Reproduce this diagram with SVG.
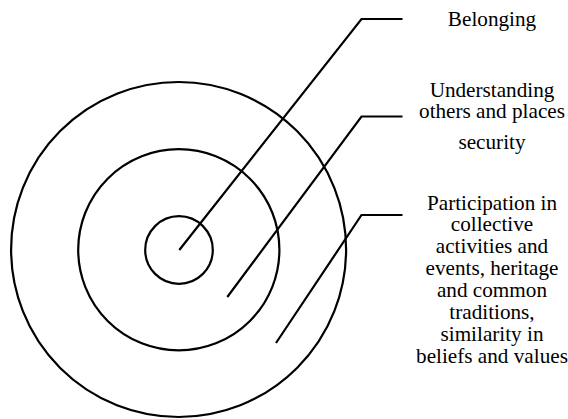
<svg xmlns="http://www.w3.org/2000/svg" width="568" height="419" viewBox="0 0 568 419">
<style>
.ring{fill:none;stroke:#000;stroke-width:2.2}
.conn{fill:none;stroke:#000;stroke-width:2.2;stroke-linejoin:miter}
text{font-family:'Liberation Serif','Tinos','Times New Roman','DejaVu Serif',serif;font-size:21.2px;fill:#000;text-anchor:middle}
</style>
<rect width="568" height="419" fill="#fff"/>
<g id="outer-circle"><circle class="ring" cx="178.6" cy="249.5" r="167.5"/></g>
<g id="middle-circle"><circle class="ring" cx="178.8" cy="249.8" r="100.6"/></g>
<g id="inner-circle"><circle class="ring" cx="179" cy="250" r="33.8"/></g>
<g id="connectors">
<polyline class="conn" points="179.3,250 361.5,19 402.5,19"/>
<polyline class="conn" points="227.3,297 361.5,116.5 402.5,116.5"/>
<polyline class="conn" points="276,343 361.5,215 402.5,215"/>
</g>
<g id="label-belonging"><text x="492" y="26">Belonging</text></g>
<g id="label-understanding">
<text x="492" y="96.8">Understanding</text>
<text x="492" y="118.3">others and places</text>
<text x="492" y="149.3">security</text>
</g>
<g id="label-participation">
<text x="492" y="209.5">Participation in</text>
<text x="492" y="231.4">collective</text>
<text x="492" y="253.3">activities and</text>
<text x="492" y="275.3">events, heritage</text>
<text x="492" y="297.2">and common</text>
<text x="492" y="319.1">traditions,</text>
<text x="492" y="341.1">similarity in</text>
<text x="492" y="363">beliefs and values</text>
</g>
</svg>
